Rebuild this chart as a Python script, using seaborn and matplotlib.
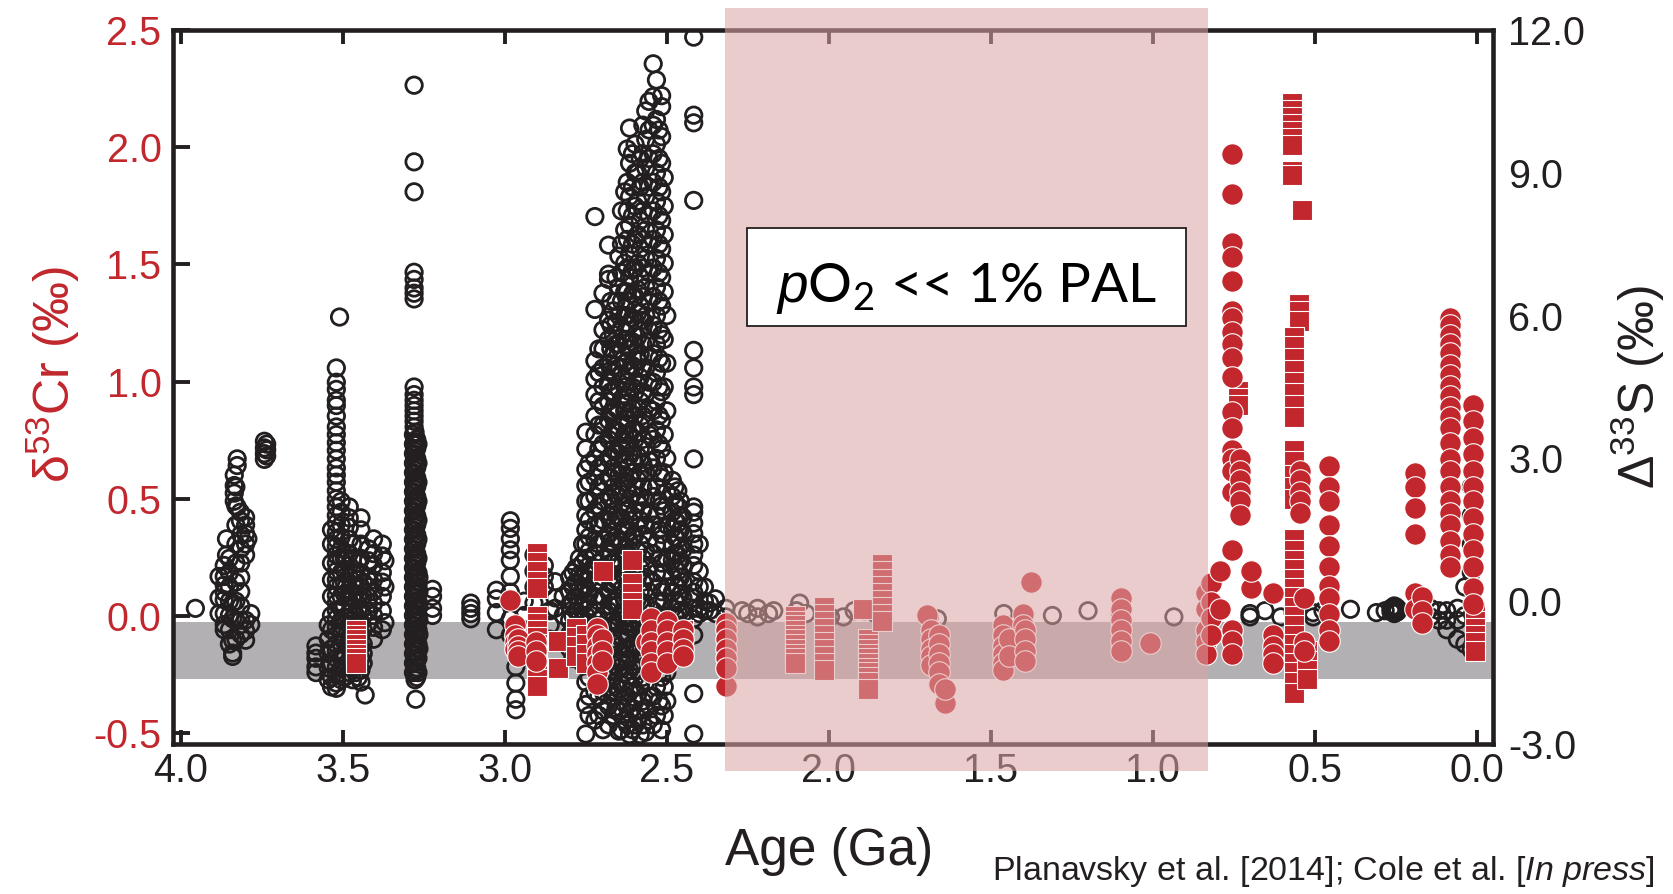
import numpy as np
import pandas as pd
import seaborn as sns
import matplotlib.pyplot as plt
from matplotlib.patches import Rectangle
from matplotlib.transforms import blended_transform_factory

sns.set_theme(style="white")
plt.rcParams["font.family"] = ["Liberation Sans", "DejaVu Sans"]
plt.rcParams["mathtext.fontset"] = "custom"
plt.rcParams["mathtext.rm"] = "Liberation Sans"
plt.rcParams["mathtext.it"] = "Liberation Sans:italic"
plt.rcParams["mathtext.sf"] = "Lato"

RED = "#C1272D"
INK = "#231F20"
GRAY = "#B2B0B2"
PINK = "#DDA5A5"

# ---------------------------------------------------------------------------
# Δ33S record (black open circles, right axis): (age in Ga, [Δ33S in ‰])
# ---------------------------------------------------------------------------
d33s_eoarchean = [
    (3.955, [-0.15]),
    (3.882, [0.52, 0.07, -0.26]),
    (3.866, [0.75, 0.52, 0.34, 0.19, 0.03, -0.26, -0.49, -0.60]),
    (3.859, [1.31, 0.97]),
    (3.850, [0.90, 0.60, 0.30, 0.00, -0.30, -0.60, -0.90]),
    (3.840, [-0.04, -0.37, -0.82, -1.09, -1.16]),
    (3.835, [2.65, 2.43, 2.27, 2.10]),
    (3.830, [2.40, 2.00, 1.60, 1.20, 0.80, 0.40, 0.00, -0.40, -0.80]),
    (3.826, [2.99, 2.85, 1.98]),
    (3.816, [1.87, 1.69]),
    (3.815, [1.40, 1.10, 0.80, 0.50, 0.20, -0.10, -0.40, -0.70]),
    (3.800, [1.76, 1.60, 1.42, 1.20, 0.97, -0.40, -0.62, -0.82]),
    (3.793, [1.31]),
    (3.784, [-0.26, -0.49]),
    (3.742, [3.36, 3.22, 3.10, 2.98]),
    (3.735, [3.30, 3.18, 3.05]),
]

d33s_paleoarchean = [
    (3.583, [-0.94, -1.09, -1.20, -1.38, -1.50]),
    (3.545, [-0.50, -0.80, -1.10, -1.40, -1.65]),
    (3.535, [1.50, 1.20, 0.80, 0.45, 0.10, -0.30, -0.60, -1.00, -1.30, -1.60, -1.80]),
    (3.520, [4.90, 4.60, 4.45, 4.22, 4.11, 3.89, 3.66, 3.50, 3.33, 3.17, 2.99, 2.80,
             2.65, 2.50, 2.32, 2.15, 1.98, 1.80, 1.64, 1.45, 1.30, 1.15, 0.97, 0.80,
             0.63, 0.45, 0.30, 0.12, -0.04, -0.20, -0.37, -0.55, -0.71, -0.90,
             -1.05, -1.20, -1.38, -1.55, -1.72, -1.83]),
    (3.510, [5.97]),
    (3.505, [2.10, 1.87, 1.60, 1.35, 1.10, 0.90, 0.60, 0.35, 0.10, -0.15, -0.40,
             -0.65, -0.90, -1.15, -1.40, -1.65]),
    (3.495, [0.90, 0.65, 0.40, 0.15, -0.10, -0.35, -0.60, -0.85, -1.10, -1.35, -1.60]),
    (3.480, [1.98, 1.75, 1.55, 1.30, 1.00, 0.75, 0.50, 0.25, 0.00, -0.25, -0.50,
             -0.75, -1.00, -1.25, -1.50]),
    (3.470, [1.20, 0.90, 0.60, 0.35, 0.10, -0.15, -0.40, -0.65, -0.90, -1.15, -1.40,
             -1.65]),
    (3.460, [0.60, 0.30, 0.00, -0.30, -0.60, -0.90, -1.20, -1.50]),
    (3.452, [0.80, 0.45, 0.15, -0.15, -0.45, -0.75, -1.05, -1.35, -1.60]),
    (3.444, [1.75, 1.50, 1.20, 0.90, 0.60, 0.30, 0.05, -0.20, -0.45, -0.70, -0.95,
             -1.20, -1.45, -1.70]),
    (3.437, [0.40, 0.10, -0.30, -0.60, -0.90, -1.10, -1.30]),
    (3.431, [-1.97]),
    (3.420, [1.10, 0.85, 0.50, 0.30, 0.08, -0.20, -0.45]),
    (3.405, [1.31, 1.00, 0.75, 0.45, 0.20, -0.05, -0.30, -0.55, -0.80]),
    (3.378, [1.20, 0.95, 0.60, 0.40, 0.10, -0.20, -0.60]),
    (3.370, [0.85, 0.30, -0.45]),
    (3.280, [10.84, 9.23, 8.60, 6.91, 6.76, 6.58, 6.47, 6.35, 4.50, 4.34, 4.22,
             4.11, 4.00, 3.89, 3.78, 3.66]),
    (3.282, [3.50, 3.30, 3.10, 2.90, 2.70, 2.50, 2.30, 2.10, 1.90, 1.70, 1.50, 1.30,
             1.10, 0.90, 0.70, 0.50, 0.30, 0.10, -0.10, -0.30, -0.50, -0.70, -0.90,
             -1.10, -1.30, -1.50]),
    (3.277, [3.55, 3.35, 3.15, 2.95, 2.75, 2.55, 2.35, 2.15, 1.95, 1.75, 1.55, 1.35,
             1.15, 0.95, 0.75, 0.55, 0.35, 0.15, -0.05, -0.25, -0.45, -0.65, -0.85,
             -1.05, -1.25, -1.45, -1.65]),
    (3.272, [3.40, 3.20, 3.00, 2.80, 2.60, 2.40, 2.20, 2.00, 1.80, 1.60, 1.40, 1.20,
             1.00, 0.80, 0.60, 0.40, 0.20, 0.00, -0.20, -0.40, -0.60, -0.80, -1.00,
             -1.20, -1.40, -1.60]),
    (3.268, [3.30, 2.90, 2.50, 2.10, 1.70, 1.30, 0.90, 0.60, 0.30, 0.00, -0.30,
             -0.60, -0.90, -1.20, -1.50]),
    (3.265, [0.50, 0.20, -0.10, -0.40, -0.70, -1.00]),
    (3.275, [-2.06]),
    (3.223, [0.25, 0.10, -0.15, -0.30]),
]

d33s_neoarchean = [
    (3.105, [-0.04, -0.15, -0.26, -0.37]),
    (3.026, [0.23, 0.05, -0.24, -0.60]),
    (2.983, [1.69, 1.53, 1.31, 1.08, 0.86, 0.52, 0.19, -0.37, -0.71]),
    (2.966, [-1.05, -1.38, -1.72, -2.06, -2.28]),
    (2.940, [0.00, -0.30, -0.60, -0.90]),
    (2.910, [0.97, 0.63, 0.30, -0.04]),
    (2.878, [0.75, 0.52, 0.30]),
    (2.860, [-0.20, -0.50, -0.80]),
    (2.845, [0.41, 0.07, -0.15]),
    (2.820, [0.10, -0.30]),
    (2.800, [0.50, 0.20, -0.10, -0.40, -0.70, -1.00]),
    (2.790, [0.60, 0.30, 0.00, -0.30, -0.60, -0.90, -1.20]),
    (2.780, [0.70, 0.40, 0.10, -0.20, -0.50]),
    (2.770, [0.90, 0.55, 0.25, -0.05, -0.35, -0.65, -0.95]),
    (2.760, [1.20, 0.80, 0.50, 0.20, -0.10, -0.40, -0.70, -1.00, -1.30]),
    (2.750, [3.55, 3.20, 2.77, 2.43, 2.10, 1.80, 1.50, 1.20, 0.90, 0.60, 0.30, 0.00,
             -0.30, -0.60, -0.90, -1.20, -1.70, -2.17, -2.79]),
    (2.740, [2.90, 2.50, 2.10, 1.70, 1.35, 1.05, 0.75, 0.45, 0.15, -0.15, -0.45,
             -0.75, -1.05, -1.35, -1.60, -2.00, -2.40]),
    (2.722, [8.08, 6.13, 5.05, 4.67, 4.34, 3.89, 3.50, 3.00, 2.60, 2.20, 1.90, 1.60,
             1.30, 1.00, 0.70, 0.40, 0.10, -0.20, -0.50, -0.80, -1.10, -1.40, -1.90,
             -2.50]),
    (2.710, [5.30, 4.80, 4.20, 3.70, 3.20, 2.80, 2.40, 2.00, 1.60, 1.20, 0.80, 0.40,
             0.00, -0.40, -0.80, -1.20, -1.60, -2.00, -2.40]),
    (2.697, [6.47, 5.70, 5.30, 4.90, 4.50, 4.10, 3.70, 3.30, 2.90, 2.50, 2.10, 1.70,
             1.30, 0.90, 0.50, 0.10, -0.30, -0.70, -1.10, -1.50, -1.90, -2.30, -2.70]),
    (2.680, [7.48, 6.87, 6.76, 5.90, 5.50, 5.00, 4.60, 4.20, 3.80, 3.40, 3.00, 2.60,
             2.20, 1.80, 1.40, 1.00, 0.60, 0.20, -0.20, -0.60, -1.00, -1.40, -1.80,
             -2.20, -2.60]),
    (2.673, [6.30, 5.80, 5.30, 4.85, 4.40, 3.95, 3.50, 3.05, 2.60, 2.15, 1.70, 1.25,
             0.80, 0.35, -0.10, -0.55, -1.00, -1.45, -1.90]),
    (2.665, [6.10, 5.60, 5.20, 4.80, 4.40, 4.00, 3.60, 3.20, 2.80, 2.40, 2.00, 1.60,
             1.20, 0.80, 0.40, 0.00, -0.40, -0.80, -1.20, -1.60, -2.00, -2.40]),
    (2.657, [6.80, 6.30, 5.85, 5.40, 4.95, 4.50, 4.05, 3.60, 3.15, 2.70, 2.25, 1.80,
             1.35, 0.90, 0.45, 0.00, -0.45, -0.90, -1.35, -1.80, -2.25]),
    (2.648, [7.25, 6.60, 6.00, 5.40, 4.90, 4.45, 4.00, 3.55, 3.10, 2.65, 2.20, 1.75,
             1.30, 0.85, 0.40, -0.05, -0.50, -0.95, -1.40, -1.85, -2.30, -2.73]),
    (2.640, [8.20, 7.50, 6.90, 6.30, 5.75, 5.25, 4.75, 4.25, 3.75, 3.25, 2.75, 2.25,
             1.75, 1.25, 0.75, 0.25, -0.25, -0.75, -1.25, -1.75, -2.25, -2.70]),
    (2.630, [8.60, 7.80, 7.10, 6.50, 6.00, 5.50, 5.00, 4.50, 4.00, 3.50, 3.00, 2.50,
             2.00, 1.50, 1.00, 0.50, 0.00, -0.50, -1.00, -1.50, -2.00, -2.50]),
    (2.622, [9.50, 8.80, 8.20, 7.60, 7.00, 6.50, 6.00, 5.50, 5.05, 4.60, 4.15, 3.70,
             3.25, 2.80, 2.35, 1.90, 1.45, 1.00, 0.55, 0.10, -0.35, -0.80, -1.25,
             -1.70, -2.15, -2.60]),
    (2.615, [9.94, 9.20, 8.50, 7.90, 7.30, 6.80, 6.30, 5.80, 5.30, 4.85, 4.40, 3.95,
             3.50, 3.05, 2.60, 2.15, 1.70, 1.25, 0.80, 0.35, -0.10, -0.55, -1.00,
             -1.45, -1.90, -2.35, -2.80]),
    (2.606, [9.40, 8.70, 8.10, 7.50, 6.95, 6.45, 5.95, 5.45, 4.95, 4.50, 4.05, 3.60,
             3.15, 2.70, 2.25, 1.80, 1.35, 0.90, 0.45, 0.00, -0.45, -0.90, -1.35,
             -1.80, -2.25, -2.70]),
    (2.598, [9.60, 9.00, 8.30, 7.60, 7.00, 6.40, 5.90, 5.40, 4.90, 4.40, 3.90, 3.40,
             2.90, 2.40, 1.90, 1.40, 0.90, 0.40, -0.10, -0.60, -1.10, -1.60, -2.10,
             -2.60]),
    (2.590, [9.00, 8.40, 7.70, 7.10, 6.55, 6.05, 5.55, 5.05, 4.55, 4.05, 3.55, 3.05,
             2.55, 2.05, 1.55, 1.05, 0.55, 0.05, -0.45, -0.95, -1.45, -1.95, -2.45]),
    (2.582, [9.30, 8.70, 8.00, 7.40, 6.80, 6.20, 5.70, 5.20, 4.70, 4.20, 3.70, 3.20,
             2.70, 2.20, 1.70, 1.20, 0.70, 0.20, -0.30, -0.80, -1.30, -1.80, -2.30,
             -2.80]),
    (2.574, [10.00, 9.40, 8.80, 8.20, 7.60, 7.00, 6.40, 5.90, 5.40, 4.90, 4.40, 3.90,
             3.40, 2.90, 2.40, 1.90, 1.40, 0.90, 0.40, -0.10, -0.60, -1.10, -1.60,
             -2.10, -2.60]),
    (2.565, [10.30, 9.70, 9.10, 8.50, 7.80, 7.20, 6.60, 6.00, 5.45, 4.90, 4.35, 3.80,
             3.25, 2.70, 2.15, 1.60, 1.05, 0.50, -0.05, -0.60, -1.15, -1.70, -2.25,
             -2.75]),
    (2.555, [10.50, 9.90, 9.30, 8.70, 8.10, 7.50, 6.90, 6.30, 5.70, 5.15, 4.60, 4.05,
             3.50, 2.95, 2.40, 1.85, 1.30, 0.75, 0.20, -0.35, -0.90, -1.45, -2.00,
             -2.50]),
    (2.542, [11.29, 10.60, 10.00, 9.40, 8.80, 8.20, 7.60, 7.00, 6.40, 5.80, 5.20,
             4.60, 4.00, 3.40, 2.80, 2.20, 1.60, 1.00, 0.40, -0.20, -0.80, -1.40,
             -2.00, -2.60]),
    (2.532, [10.95, 10.12, 9.60, 9.00, 8.40, 7.80, 7.20, 6.60, 6.00, 5.40, 4.80,
             4.20, 3.60, 3.00, 2.40, 1.80, 1.20, 0.60, 0.00, -0.60, -1.20, -1.80,
             -2.40]),
    (2.524, [9.90, 9.30, 8.70, 8.10, 7.50, 6.90, 6.30, 5.70, 5.10, 4.50, 3.90, 3.30,
             2.70, 2.10, 1.50, 0.90, 0.30, -0.30, -0.90, -1.50, -2.10]),
    (2.516, [10.62, 10.39, 9.76, 9.20, 8.60, 8.00, 7.40, 6.80, 6.20, 5.60, 5.00,
             4.40, 3.80, 3.20, 2.60, 2.00, 1.40, 0.80, 0.20, -0.40, -1.00, -1.60,
             -2.20, -2.70]),
    (2.508, [8.90, 8.30, 7.70, 7.10, 6.50, 5.50, 4.50, 3.50, 2.70, 1.90, 1.20, 0.60,
             0.00, -0.60, -1.20, -1.80, -2.40]),
    (2.500, [6.00, 5.00, 4.00, 3.00, 2.30, 1.60, 0.90, 0.30, -0.30, -0.90, -1.50,
             -2.10]),
    (2.483, [2.54, 2.20, 1.87, 1.53, 1.20, 0.86, 0.52, 0.19, -0.15, -0.49, -0.82,
             -1.15]),
    (2.475, [2.40, 2.05, 1.70, 1.35, 1.00, 0.70, 0.35, 0.00, -0.30, -0.65, -0.95]),
    (2.466, [2.32, 2.00, 1.64, 1.30, 0.97, 0.63, 0.30, -0.04, -0.37, -0.70, -1.00]),
    (2.458, [2.10, 1.80, 1.50, 1.15, 0.85, 0.50, 0.15, -0.20, -0.50]),
    (2.450, [1.76, 1.42, 1.08, 0.75, 0.41, 0.07, -0.26, -0.60]),
    (2.417, [11.85, 10.21, 10.05, 8.42, 5.27, 4.90, 4.50, 4.34, 2.99, 1.98, 1.87,
             1.64, 1.42, 1.20, 0.97, 0.75, 0.41, 0.19, 0.07, -0.15, -0.37, -0.71,
             -1.94, -2.79]),
    (2.400, [1.20, 0.63, 0.30, -0.15, -0.26]),
    (2.384, [0.30, 0.00, -0.20]),
]

d33s_proterozoic = [
    (2.368, [-0.04, -0.20]), (2.350, [0.05, -0.26]), (2.318, [-0.15, -0.33]),
    (2.268, [-0.20]), (2.250, [-0.26]), (2.220, [-0.33, -0.15]), (2.186, [-0.26]),
    (2.170, [-0.20]), (2.100, [-0.20]), (2.090, [-0.04]), (2.070, [-0.26]),
    (2.020, [-0.26]), (1.995, [-0.33]), (1.955, [-0.33]), (1.922, [-0.20]),
    (1.890, [-0.20]), (1.856, [-0.26]), (1.690, [-0.33]), (1.665, [-0.37]),
    (1.460, [-0.26]), (1.310, [-0.30]), (1.200, [-0.20]), (1.100, [-0.26]),
    (0.935, [-0.33]),
]

d33s_phanerozoic = [
    (0.835, [-0.15]), (0.700, [-0.26, -0.33]), (0.654, [-0.20]), (0.605, [-0.33]),
    (0.567, [-0.24]), (0.505, [-0.24, -0.33]), (0.475, [-0.20]), (0.390, [-0.17]),
    (0.310, [-0.24]), (0.283, [-0.20]), (0.265, [-0.15, -0.22]),
    (0.258, [-0.14, -0.20]),
    (0.255, [-0.10, -0.20, -0.26]), (0.250, [-0.12, -0.18, -0.24]),
    (0.245, [-0.15, -0.22]),
    (0.143, [-0.15, -0.33]), (0.117, [-0.20, -0.40]), (0.093, [-0.20, -0.40, -0.60]),
    (0.060, [-0.15, -0.40, -0.80]), (0.037, [0.30, -0.30, -0.90]),
    (0.017, [2.40, 1.80, 1.20, 0.60, -1.02]),
]

# ---------------------------------------------------------------------------
# δ53Cr record (red, left axis): (age in Ga, [δ53Cr in ‰])
# ---------------------------------------------------------------------------
cr_circles_archean = [
    (2.983, [0.067]),
    (2.970, [-0.04, -0.08, -0.11, -0.14]),
    (2.960, [-0.10, -0.13, -0.15, -0.17]),
    (2.905, [-0.11, -0.15, -0.19]),
    (2.715, [-0.05, -0.08, -0.13, -0.16, -0.20, -0.24, -0.29]),
    (2.700, [-0.10, -0.15, -0.19]),
    (2.565, [-0.11]),
    (2.550, [-0.01, -0.06, -0.11, -0.15, -0.20, -0.24]),
    (2.500, [-0.02, -0.06, -0.11, -0.15, -0.20]),
    (2.450, [-0.06, -0.10, -0.14, -0.17]),
    (2.318, [-0.30, -0.03, -0.06, -0.10, -0.14, -0.18, -0.22]),
]

cr_circles_proterozoic = [
    (1.698, [0.003]),
    (1.685, [-0.06, -0.10, -0.14, -0.17, -0.21]),
    (1.660, [-0.08, -0.12, -0.16, -0.20, -0.24, -0.29]),
    (1.642, [-0.37, -0.31]),
    (1.461, [-0.04, -0.08, -0.13, -0.16, -0.20, -0.23]),
    (1.444, [-0.10, -0.17]),
    (1.402, [0.008, -0.04]),
    (1.395, [-0.06, -0.10, -0.15, -0.19]),
    (1.375, [0.145]),
    (1.098, [0.076, 0.03, -0.015, -0.06, -0.106, -0.151]),
    (1.010, [-0.115]),
    (0.835, [0.10, 0.03, -0.06, -0.11, -0.16]),
    (0.820, [0.14, 0.06, -0.01, -0.08]),
]

cr_circles_phanerozoic = [
    (0.755, [1.97, 1.80, 1.59, 1.53, 1.43, 1.30, 1.27, 1.21, 1.16, 1.10, 1.02, 0.87,
             0.80, 0.71, 0.67, 0.62, 0.53, 0.28, -0.06, -0.106, -0.16]),
    (0.792, [0.19, 0.03]),
    (0.730, [0.67, 0.62, 0.58, 0.53, 0.49, 0.43]),
    (0.697, [0.12, 0.19]),
    (0.630, [0.10, -0.08, -0.13, -0.16, -0.20]),
    (0.545, [0.62, 0.58, 0.53, 0.49, 0.44]),
    (0.532, [0.076, -0.11, -0.15]),
    (0.455, [0.64, 0.55, 0.49, 0.39, 0.30, 0.21, 0.13, 0.076, 0.008, -0.06, -0.106]),
    (0.192, [0.61, 0.55, 0.46, 0.35, 0.10, 0.03]),
    (0.170, [0.08, 0.02, -0.03]),
    (0.083, [1.27, 1.24, 1.20, 1.16, 1.12, 1.07, 1.03, 0.98, 0.94, 0.89, 0.85, 0.80,
             0.74, 0.67, 0.62, 0.55, 0.49, 0.44, 0.39, 0.32, 0.26, 0.21]),
    (0.012, [0.90, 0.83, 0.76, 0.69, 0.62, 0.55, 0.49, 0.42, 0.35, 0.28, 0.21, 0.12,
             0.05]),
]

cr_squares = [
    (3.460, [-0.06, -0.08, -0.10, -0.12, -0.14, -0.16, -0.18, -0.20]),
    (2.900, [0.27, 0.23, 0.19, 0.15, 0.12, 0.00, -0.03, -0.06, -0.09, -0.12, -0.15,
             -0.18, -0.21, -0.24, -0.27, -0.30]),
    (2.835, [-0.106, -0.22]),
    (2.780, [-0.05, -0.09, -0.13, -0.17]),
    (2.750, [-0.08, -0.12, -0.16, -0.20]),
    (2.697, [0.19]),
    (2.607, [0.24, 0.14, 0.10, 0.06, 0.03]),
    (2.532, [-0.07, -0.10, -0.13, -0.16, -0.19]),
    (2.450, [-0.06, -0.09, -0.12, -0.15]),
    (2.103, [0.00, -0.02, -0.04, -0.06, -0.08, -0.10, -0.12, -0.14, -0.16, -0.18,
             -0.20]),
    (2.014, [0.04, 0.01, -0.02, -0.05, -0.08, -0.11, -0.14, -0.17, -0.20, -0.23]),
    (1.895, [0.03]),
    (1.879, [-0.10, -0.12, -0.14, -0.16, -0.18, -0.20, -0.22, -0.24, -0.26, -0.28,
             -0.31]),
    (1.836, [0.22, 0.19, 0.16, 0.13, 0.10, 0.07, 0.04, 0.01, -0.02]),
    (0.736, [0.96, 0.93, 0.90]),
    (0.570, [2.19, 2.16, 2.13, 2.10, 2.07, 2.04, 2.01, 1.90, 1.88]),
    (0.540, [1.73]),
    (0.548, [1.33, 1.30, 1.26]),
    (0.565, [1.19, 1.15, 1.10, 1.05, 1.00, 0.95, 0.90, 0.85, 0.71, 0.66, 0.60, 0.55,
             0.50, 0.33, 0.28, 0.24, 0.20, 0.16, 0.12, 0.08, 0.04, 0.00, -0.04, -0.08,
             -0.12, -0.16, -0.20, -0.24, -0.28, -0.33]),
    (0.525, [-0.15, -0.19, -0.23, -0.27]),
    (0.005, [0.015, -0.02, -0.05, -0.08, -0.11, -0.15]),
]

# Reference ranges and intervals
igneous_cr_range = (-0.27, -0.025)   # δ53Cr of the igneous inventory (‰)
low_o2_interval = (2.32, 0.83)       # Ga

age_ticks = [4.0, 3.5, 3.0, 2.5, 2.0, 1.5, 1.0, 0.5, 0.0]
cr_ticks = [-0.5, 0.0, 0.5, 1.0, 1.5, 2.0, 2.5]
s_ticks = [-3.0, 0.0, 3.0, 6.0, 9.0, 12.0]


def columns_to_frame(*groups, value="value"):
    rows = [(age, v) for group in groups for age, vals in group for v in vals]
    return pd.DataFrame(rows, columns=["age", value])


s33 = columns_to_frame(d33s_eoarchean, d33s_paleoarchean, d33s_neoarchean,
                       d33s_proterozoic, d33s_phanerozoic, value="d33s")
cr_c = columns_to_frame(cr_circles_archean, cr_circles_proterozoic,
                        cr_circles_phanerozoic, value="d53cr")
cr_s = columns_to_frame(cr_squares, value="d53cr")

# ---------------------------------------------------------------------------
fig = plt.figure(figsize=(16.74, 8.94), dpi=100)
ax_s = fig.add_axes([0.10317, 0.16779, 0.78853, 0.79866])
ax_cr = ax_s.twinx()

# igneous δ53Cr band, beneath all data
band_tf = blended_transform_factory(ax_s.transAxes, ax_cr.transData)
ax_s.add_patch(Rectangle((0, igneous_cr_range[0]), 1,
                         igneous_cr_range[1] - igneous_cr_range[0],
                         transform=band_tf, fc=GRAY, ec="none", zorder=0.5))

sns.scatterplot(data=s33, x="age", y="d33s", ax=ax_s, marker="o", s=140,
                color=INK, facecolor="none", edgecolor=INK, linewidth=2.0,
                zorder=2, legend=False)
sns.scatterplot(data=cr_s, x="age", y="d53cr", ax=ax_cr, marker="s", s=215,
                color=RED, edgecolor="white", linewidth=0.8, zorder=3, legend=False)
sns.scatterplot(data=cr_c, x="age", y="d53cr", ax=ax_cr, marker="o", s=240,
                color=RED, edgecolor="white", linewidth=0.8, zorder=4, legend=False)

ax_s.set_xlim(4.025, -0.049)
ax_s.set_ylim(-3.0, 12.0)
ax_cr.set_ylim(-0.546, 2.5)

# low-oxygen interval overlay
ax_cr.axvspan(low_o2_interval[0], low_o2_interval[1], ymin=-0.038, ymax=1.031,
              fc=PINK, alpha=0.56, lw=0, zorder=10, clip_on=False)

# annotation box
ax_cr.add_patch(Rectangle((0.435, 0.5854), 0.3326, 0.1373, transform=ax_cr.transAxes,
                          fc="white", ec=INK, lw=1.3, zorder=20, clip_on=False))
ax_cr.text(0.6013, 0.638, r"$p\mathsf{O}_{\mathsf{2}}$ << 1% PAL",
           transform=ax_cr.transAxes, ha="center", va="center", fontsize=39.5,
           family="Lato", color="black", zorder=21)

# axes styling
for ax in (ax_s, ax_cr):
    for sp in ax.spines.values():
        sp.set_visible(ax is ax_cr)
        sp.set_linewidth(3.3)
        sp.set_color(INK)

ax_s.set_xticks(age_ticks)
ax_s.set_xticklabels([f"{t:.1f}" for t in age_ticks])
ax_s.tick_params(axis="x", which="both", direction="in", top=True, bottom=True,
                 length=10, width=2.8, color=INK, labelsize=28.5, labelcolor=INK, pad=6)

ax_s.yaxis.tick_right()
ax_s.yaxis.set_label_position("right")
ax_s.set_yticks(s_ticks)
ax_s.set_yticklabels([f"{t:.1f}" for t in s_ticks])
ax_s.tick_params(axis="y", left=False, right=True, labelleft=False, labelright=True,
                 length=0, labelsize=28.5, labelcolor=INK, pad=11)

ax_cr.yaxis.tick_left()
ax_cr.yaxis.set_label_position("left")
ax_cr.set_yticks(cr_ticks)
ax_cr.set_yticklabels([f"{t:.1f}" for t in cr_ticks])
ax_cr.tick_params(axis="y", left=True, right=False, labelleft=True, labelright=False,
                  direction="in", length=12, width=2.8, color=INK, labelsize=28.5,
                  labelcolor=RED, pad=8)

ax_s.set_xlabel("Age (Ga)", fontsize=37, color=INK)
ax_s.xaxis.set_label_coords(0.497, -0.15)
ax_s.xaxis.label.set_va("center")

ax_cr.set_ylabel("δ$^{53}$Cr (‰)", fontsize=36, color=RED)
ax_cr.yaxis.set_label_coords(-0.0905, 0.518)
ax_cr.yaxis.label.set_va("center")

ax_s.set_ylabel("Δ$^{33}$S (‰)", fontsize=36, color=INK, rotation=90)
ax_s.yaxis.set_label_coords(1.110, 0.5)
ax_s.yaxis.label.set_va("center")

fig.text(0.9886, 0.0257, r"Planavsky et al. [2014]; Cole et al. [$\mathit{In\ press}$]",
         ha="right", va="center", fontsize=24.5, color=INK)

fig.savefig("out.png", dpi=100)
